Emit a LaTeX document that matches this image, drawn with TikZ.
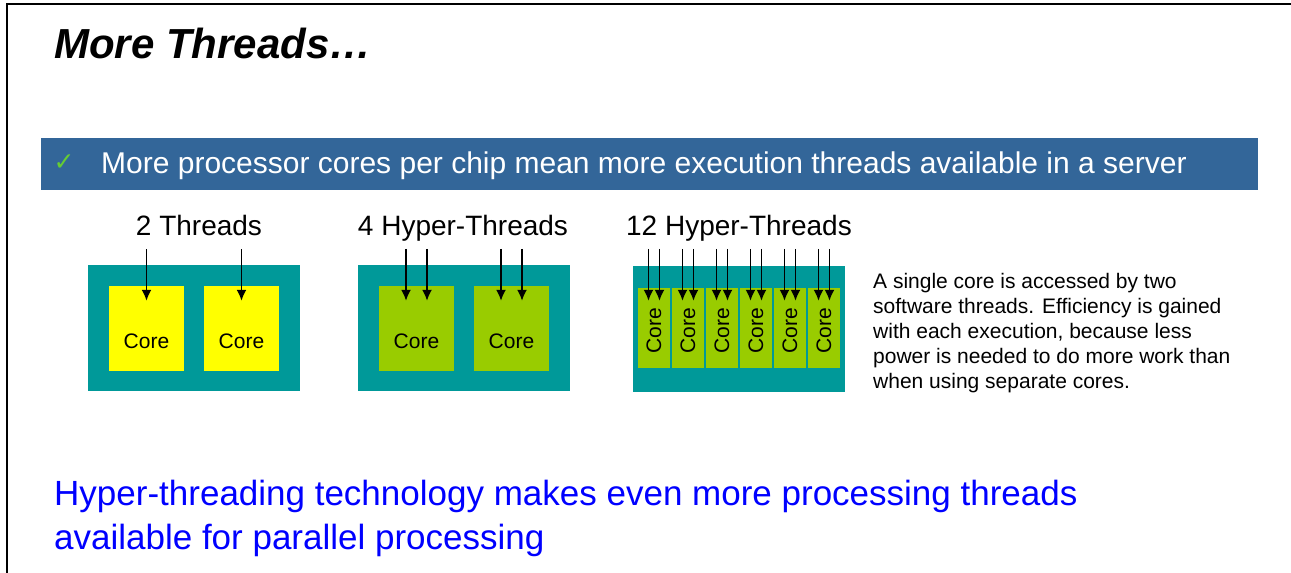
\documentclass[tikz,border=0pt]{standalone}
\usepackage{fontspec}
\setmainfont{Liberation Sans}
\newfontfamily\symbolfont{DejaVu Sans}
\usetikzlibrary{calc,arrows.meta}

\definecolor{bannerblue}{RGB}{51,102,153}
\definecolor{chipteal}{RGB}{0,153,153}
\definecolor{coreyellow}{RGB}{255,255,0}
\definecolor{coregreen}{RGB}{153,204,0}
\definecolor{tickgreen}{RGB}{102,204,51}
\definecolor{summaryblue}{RGB}{0,0,255}

\tikzset{
    chip/.style={fill=chipteal,minimum width=212pt,minimum height=126pt,inner sep=0},
    core/.style={fill=#1,minimum width=75pt,minimum height=85pt,inner sep=0},
    hcore/.style={fill=coregreen,minimum width=32.3pt,minimum height=80pt,inner sep=0},
    thread/.style={line width=1.8pt,-{Latex[length=11pt,width=10pt]}},
    corelabel/.style={font=\corefontsize,inner sep=0},
}

\begin{document}
\begin{tikzpicture}[x=1pt,y=-1pt]
    \providecommand{\titlefontsize}{\fontsize{42}{50}\selectfont}
    \providecommand{\bannerfontsize}{\fontsize{30}{36}\selectfont}
    \providecommand{\headfontsize}{\fontsize{28}{34}\selectfont}
    \providecommand{\corefontsize}{\fontsize{21}{25}\selectfont}
    \providecommand{\notefontsize}{\fontsize{21}{25}\selectfont}
    \providecommand{\bottomfontsize}{\fontsize{35}{43.5}\selectfont}
    \useasboundingbox (0,0) rectangle (1291,573);
    \draw[line width=1.5pt] (7,573) -- (7,4) -- (1291,4);
    \node[anchor=base west,inner sep=0,font=\titlefontsize\bfseries\itshape] (title) at (54,58) {More Threads…};
    \node[fill=bannerblue,minimum width=1217pt,minimum height=52pt,inner sep=0] (banner) at (649.5,164) {};
    \node[text=tickgreen,inner sep=0,font=\fontsize{25}{30}\symbolfont] (tick) at (64,163) {✓};
    \node[anchor=base west,inner sep=0,text=white,font=\bannerfontsize] (point) at (101,173)
    {More processor cores per chip mean more execution threads available in a server};
    % \coordinate (top) at (0,246);
    \coordinate (top) at (0,249);
    % two threads
    \node[anchor=base,inner sep=0,font=\headfontsize] (head1) at (199,235) {2 Threads};
    \node[chip] (chip1) at (194,328) {};
    \node[core=coreyellow,label={[corelabel,yshift=-13pt]center:Core}] (c1) at (146.5,328.5) {};
    \node[core=coreyellow,label={[corelabel,yshift=-13pt]center:Core}] (c2) at (241.5,328.5) {};
    \draw[thread] (c1.north |- top) -- ($(c1.north)+(0,15)$);
    \draw[thread] (c2.north |- top) -- ($(c2.north)+(0,15)$);
    % four hyper-threads
    \node[anchor=base,inner sep=0,font=\headfontsize] (head2) at (463,235) {4 Hyper-Threads};
    \node[chip] (chip2) at (464,328) {};
    \node[core=coregreen,label={[corelabel,yshift=-13pt]center:Core}] (c3) at (416.5,328.5) {};
    \node[core=coregreen,label={[corelabel,yshift=-13pt]center:Core}] (c4) at (511.5,328.5) {};
    \foreach \c in {c3,c4}{
        \draw[thread] ($(\c.north)+(-10.5,-37)$) -- ($(\c.north)+(-10.5,15)$);
        \draw[thread] ($(\c.north)+(10.5,-37)$) -- ($(\c.north)+(10.5,15)$);
    }
    % twelve hyper-threads
    \node[anchor=base,inner sep=0,font=\headfontsize] (head3) at (739,235) {12 Hyper-Threads};
    \node[chip] (chip3) at (739,328.5) {};
    \foreach \i in {0,...,5}{
        \node[hcore] (h\i) at (654+34*\i,328) {};
        \node[corelabel,rotate=90] (hl\i) at (654+34*\i,331) {Core};
        \draw[thread] ($(h\i.north)+(-5.5,-39)$) -- ($(h\i.north)+(-5.5,13)$);
        \draw[thread] ($(h\i.north)+(5.5,-39)$) -- ($(h\i.north)+(5.5,13)$);
    }
    % base of a multi-line node is its last line
    \node[anchor=base west,inner sep=0,align=left,font=\notefontsize] (note) at (873,388.5)
    {A single core is accessed by two\\software threads. Efficiency is gained\\with each execution, because less\\power is needed to do more work than\\when using separate cores.};
    \node[anchor=base west,inner sep=0,align=left,text=summaryblue,font=\bottomfontsize] (summary) at (54,549)
    {Hyper-threading technology makes even more processing threads\\available for parallel processing};
\end{tikzpicture}
\end{document}
